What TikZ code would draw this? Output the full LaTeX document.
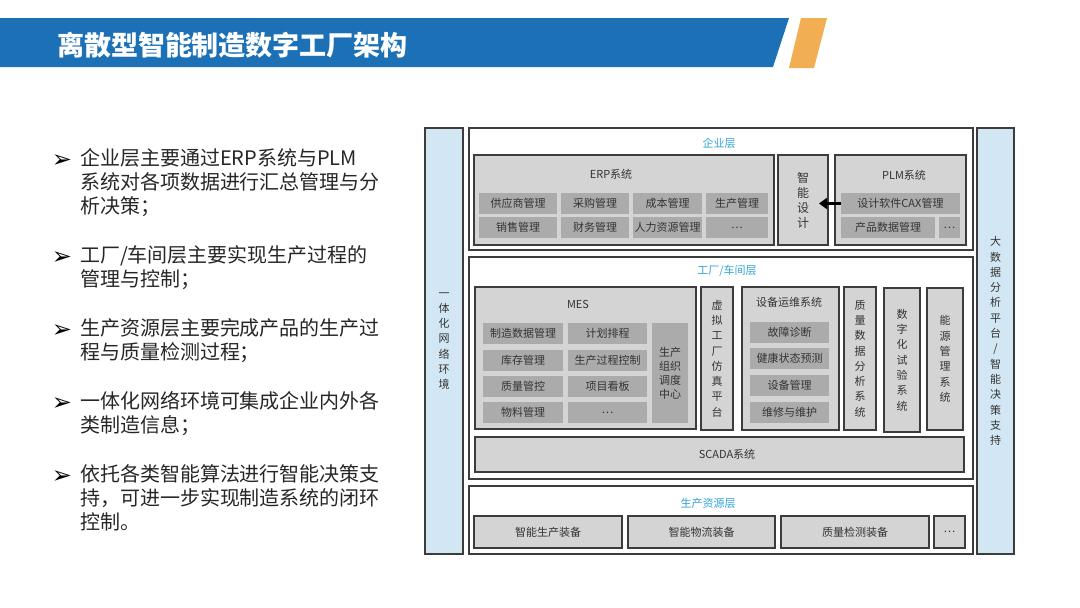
\documentclass[tikz,border=0pt]{standalone}
\usepackage{fontspec}
\setmainfont{Noto Sans CJK SC}
\newfontfamily\symfont{DejaVu Sans}
\usetikzlibrary{arrows.meta}
\definecolor{titleblue}{HTML}{1B70B6}
\definecolor{titleorange}{HTML}{F2AE52}
\definecolor{barfill}{HTML}{D2E7F3}
\definecolor{boxfill}{HTML}{D4D4D4}
\definecolor{itemfill}{HTML}{ABABAB}
\definecolor{boxline}{HTML}{3C3C3C}
\definecolor{txt}{HTML}{333333}
\definecolor{cyanc}{HTML}{2FA3D6}
\definecolor{bodytxt}{HTML}{262626}
\newcommand{\dfont}{\fontsize{11}{15.3}\selectfont}
\begin{document}
\begin{tikzpicture}[x=1pt,y=-1pt,
  every node/.style={inner sep=0pt, outer sep=0pt},
  lay/.style={draw=boxline, line width=1.3pt, fill=white},
  sys/.style={draw=boxline, line width=1.7pt, fill=boxfill, font=\dfont, text=txt, align=center},
  item/.style={fill=itemfill, font=\dfont, text=txt, align=center},
  vbar/.style={draw=boxline, line width=1.2pt, fill=barfill, font=\dfont, text=txt, align=center},
  lbl/.style={font=\dfont, text=txt},
  ltitle/.style={font=\dfont, text=cyanc},
  bline/.style={anchor=west, font=\fontsize{20}{24}\selectfont, text=bodytxt, text height=15pt, text depth=4pt},
  bul/.style={font=\symfont\fontsize{24}{24}\selectfont, text=black}]
\useasboundingbox (0,0) rectangle (1080,608);
% title bar
\fill[titleblue] (0,18) -- (789,18) -- (773,67) -- (0,67) -- cycle;
\fill[titleorange] (801,18) -- (827,18) -- (814,68) -- (789,68) -- cycle;
\node[anchor=west, font=\fontsize{27}{27}\selectfont\bfseries, text=white] (title) at (57,45) {离散型智能制造数字工厂架构};
% bullets
\node[bul] (b1) at (62,161) {➢};
\node[bline] (l1a) at (80,160) {企业层主要通过ERP系统与PLM};
\node[bline] (l1b) at (80,184) {系统对各项数据进行汇总管理与分};
\node[bline] (l1c) at (80,208) {析决策；};
\node[bul] (b2) at (62,258) {➢};
\node[bline] (l2a) at (80,257) {工厂/车间层主要实现生产过程的};
\node[bline] (l2b) at (80,281) {管理与控制；};
\node[bul] (b3) at (62,331) {➢};
\node[bline] (l3a) at (80,330) {生产资源层主要完成产品的生产过};
\node[bline] (l3b) at (80,354) {程与质量检测过程；};
\node[bul] (b4) at (62,404) {➢};
\node[bline] (l4a) at (80,403) {一体化网络环境可集成企业内外各};
\node[bline] (l4b) at (80,427) {类制造信息；};
\node[bul] (b5) at (62,477) {➢};
\node[bline] (l5a) at (80,476) {依托各类智能算法进行智能决策支};
\node[bline] (l5b) at (80,500) {持，可进一步实现制造系统的闭环};
\node[bline] (l5c) at (80,524) {控制。};
% side bars
\node[vbar, minimum width=38pt, minimum height=426pt] (net) at (444,341) {一\\体\\化\\网\\络\\环\\境};
\node[vbar, minimum width=37pt, minimum height=426pt] (big) at (995.5,341) {大\\数\\据\\分\\析\\平\\台\\/\\智\\能\\决\\策\\支\\持};
% layer frames
\node[lay, minimum width=504pt, minimum height=122pt] (ent) at (721,189) {};
\node[lay, minimum width=504pt, minimum height=222pt] (fac) at (721,368) {};
\node[lay, minimum width=504pt, minimum height=68pt] (res) at (721,520) {};
\node[ltitle] (entT) at (719,143) {企业层};
\node[ltitle] (facT) at (727,271) {工厂/车间层};
\node[ltitle] (resT) at (708,503) {生产资源层};
% enterprise layer
\node[sys, minimum width=300pt, minimum height=90pt] (erp) at (624,200) {};
\node[lbl] (erpT) at (611,174) {ERP系统};
\node[item, minimum width=78pt, minimum height=21pt] (e11) at (518,203.5) {供应商管理};
\node[item, minimum width=68pt, minimum height=21pt] (e12) at (595,203.5) {采购管理};
\node[item, minimum width=69pt, minimum height=21pt] (e13) at (667.5,203.5) {成本管理};
\node[item, minimum width=62pt, minimum height=21pt] (e14) at (737,203.5) {生产管理};
\node[item, minimum width=78pt, minimum height=21pt] (e21) at (518,227.5) {销售管理};
\node[item, minimum width=68pt, minimum height=21pt] (e22) at (595,227.5) {财务管理};
\node[item, minimum width=69pt, minimum height=21pt] (e23) at (667.5,227.5) {人力资源管理};
\node[item, minimum width=62pt, minimum height=21pt] (e24) at (737,227.5) {…};
\node[sys, minimum width=50pt, minimum height=90pt, font=\fontsize{12}{15}\selectfont] (zn) at (803,200) {智\\能\\设\\计};
\node[sys, minimum width=131pt, minimum height=90pt] (plm) at (900.5,200) {};
\node[lbl] (plmT) at (904,175) {PLM系统};
\node[item, minimum width=119pt, minimum height=21pt] (p1) at (900.5,203.5) {设计软件CAX管理};
\node[item, minimum width=94pt, minimum height=21pt] (p2) at (888,227.5) {产品数据管理};
\node[item, minimum width=21pt, minimum height=21pt] (p3) at (949.5,227.5) {…};
\draw[line width=2.8pt, -{Triangle[length=8pt,width=11pt]}, shorten >=-9pt] (p1.west) -- (p1.west -| zn.east);
% factory layer
\node[sys, minimum width=221pt, minimum height=142pt] (mes) at (585.5,358) {};
\node[lbl] (mesT) at (578,304) {MES};
\node[item, minimum width=80pt, minimum height=21pt] (m11) at (523,333.5) {制造数据管理};
\node[item, minimum width=79pt, minimum height=21pt] (m12) at (607.5,333.5) {计划排程};
\node[item, minimum width=80pt, minimum height=21pt] (m21) at (523,360) {库存管理};
\node[item, minimum width=79pt, minimum height=21pt] (m22) at (607.5,360) {生产过程控制};
\node[item, minimum width=80pt, minimum height=21pt] (m31) at (523,386) {质量管控};
\node[item, minimum width=79pt, minimum height=21pt] (m32) at (607.5,386) {项目看板};
\node[item, minimum width=80pt, minimum height=21pt] (m41) at (523,412.5) {物料管理};
\node[item, minimum width=79pt, minimum height=21pt] (m42) at (607.5,412.5) {…};
\node[item, minimum width=36pt, minimum height=100pt, font=\fontsize{11}{14}\selectfont] (org) at (670,373) {生产\\组织\\调度\\中心};
\node[sys, minimum width=32pt, minimum height=143pt] (vf) at (717,358.5) {虚\\拟\\工\\厂\\仿\\真\\平\\台};
\node[sys, minimum width=97pt, minimum height=143pt] (om) at (790.5,358.5) {};
\node[lbl] (omT) at (789,302) {设备运维系统};
\node[item, minimum width=79pt, minimum height=21pt] (o1) at (789.5,332.5) {故障诊断};
\node[item, minimum width=79pt, minimum height=21pt] (o2) at (789.5,358.5) {健康状态预测};
\node[item, minimum width=79pt, minimum height=21pt] (o3) at (789.5,385.5) {设备管理};
\node[item, minimum width=79pt, minimum height=21pt] (o4) at (789.5,412.5) {维修与维护};
\node[sys, minimum width=32pt, minimum height=143pt] (qd) at (860,358.5) {质\\量\\数\\据\\分\\析\\系\\统};
\node[sys, minimum width=36pt, minimum height=144pt] (dt) at (902,360) {数\\字\\化\\试\\验\\系\\统};
\node[sys, minimum width=36pt, minimum height=142pt] (en) at (945,359) {能\\源\\管\\理\\系\\统};
\node[sys, minimum width=489pt, minimum height=35pt] (scada) at (719.5,454.5) {};
\node[lbl] (scadaT) at (727,454) {SCADA系统};
% resource layer
\node[sys, minimum width=148pt, minimum height=32pt] (r1) at (548,532) {智能生产装备};
\node[sys, minimum width=147pt, minimum height=32pt] (r2) at (701.5,532) {智能物流装备};
\node[sys, minimum width=148pt, minimum height=32pt] (r3) at (855,532) {质量检测装备};
\node[sys, minimum width=31pt, minimum height=32pt] (r4) at (949.5,532) {…};
\end{tikzpicture}
\end{document}
